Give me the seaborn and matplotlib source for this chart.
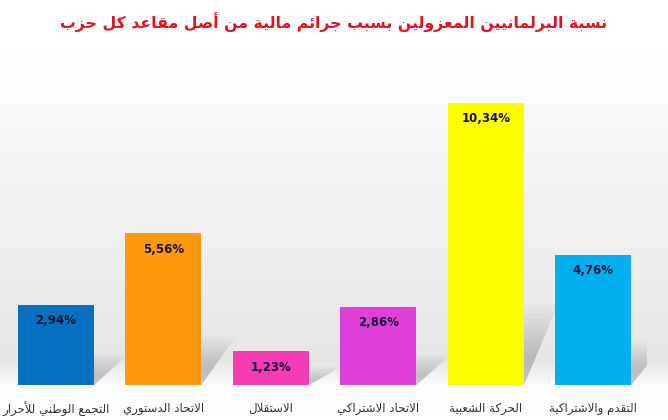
import matplotlib
matplotlib.use("Agg")
import matplotlib.pyplot as plt
import numpy as np
import pandas as pd
import seaborn as sns
from matplotlib.patches import Polygon

title = "نسبة البرلمانيين المعزولين بسبب جرائم مالية من أصل مقاعد كل حزب"
parties = ["التجمع الوطني للأحرار", "الاتحاد الدستوري", "الاستقلال",
           "الاتحاد الاشتراكي", "الحركة الشعبية", "التقدم والاشتراكية"]
shares = [2.94, 5.56, 1.23, 2.86, 10.34, 4.76]
colors = ["#0870c0", "#ff990c", "#f63cb4", "#e040d8", "#ffff00", "#02b0f0"]

# matplotlib has no arabic shaping, so map letters to presentation forms
FORMS = {
    'ء': (0xFE80, 1), 'آ': (0xFE81, 2), 'أ': (0xFE83, 2), 'ؤ': (0xFE85, 2),
    'إ': (0xFE87, 2), 'ئ': (0xFE89, 4), 'ا': (0xFE8D, 2), 'ب': (0xFE8F, 4),
    'ة': (0xFE93, 2), 'ت': (0xFE95, 4), 'ث': (0xFE99, 4), 'ج': (0xFE9D, 4),
    'ح': (0xFEA1, 4), 'خ': (0xFEA5, 4), 'د': (0xFEA9, 2), 'ذ': (0xFEAB, 2),
    'ر': (0xFEAD, 2), 'ز': (0xFEAF, 2), 'س': (0xFEB1, 4), 'ش': (0xFEB5, 4),
    'ص': (0xFEB9, 4), 'ض': (0xFEBD, 4), 'ط': (0xFEC1, 4), 'ظ': (0xFEC5, 4),
    'ع': (0xFEC9, 4), 'غ': (0xFECD, 4), 'ف': (0xFED1, 4), 'ق': (0xFED5, 4),
    'ك': (0xFED9, 4), 'ل': (0xFEDD, 4), 'م': (0xFEE1, 4), 'ن': (0xFEE5, 4),
    'ه': (0xFEE9, 4), 'و': (0xFEED, 2), 'ى': (0xFEEF, 2), 'ي': (0xFEF1, 4),
}
LAM_ALEF = {'آ': 0xFEF5, 'أ': 0xFEF7, 'إ': 0xFEF9, 'ا': 0xFEFB}


def shape(text):
    tokens = []
    i = 0
    while i < len(text):
        c = text[i]
        if c == 'ل' and i + 1 < len(text) and text[i + 1] in LAM_ALEF:
            tokens.append((LAM_ALEF[text[i + 1]], 2))
            i += 2
            continue
        if c in FORMS:
            tokens.append(FORMS[c])
        else:
            tokens.append((c, 0))
        i += 1
    out = []
    for k, (base, n) in enumerate(tokens):
        if n == 0:
            out.append(base)
            continue
        prev = k > 0 and tokens[k - 1][1] == 4 and n >= 2
        nxt = n == 4 and k + 1 < len(tokens) and tokens[k + 1][1] >= 2
        if prev and nxt:
            off = 3
        elif prev:
            off = 1
        elif nxt:
            off = 2
        else:
            off = 0
        out.append(chr(base + off))
    return "".join(reversed(out))


def main():
    sns.set_theme(style="white")
    plt.rcParams['font.family'] = ['DejaVu Sans']

    df = pd.DataFrame({"party": [shape(p) for p in parties], "share": shares})

    fig = plt.figure(figsize=(6.68, 4.20), dpi=100)

    # soft grey background that fades to white at top and bottom
    bg = fig.add_axes([0, 0, 1, 1], zorder=0)
    t = np.linspace(0, 1, 420)
    grad = np.interp(t, [0, 0.10, 0.40, 0.86, 0.92, 1.0],
                     [1.0, 1.0, 0.955, 0.90, 0.985, 1.0])
    bg.imshow(grad[:, None], cmap="gray", vmin=0, vmax=1, aspect="auto",
              extent=[0, 1, 0, 1])
    bg.axis("off")

    ax = fig.add_axes([0.003, 0.0833, 0.9656, 0.7738], zorder=1)
    ax.patch.set_alpha(0)

    sns.barplot(data=df, x="party", y="share", hue="party",
                palette=colors, legend=False, width=0.71, saturation=1,
                linewidth=0, edgecolor="none", ax=ax)

    # soft drop shadows falling back to the upper right of each bar
    for p in ax.patches:
        x0 = p.get_x()
        x1 = x0 + p.get_width()
        h = p.get_height()
        w = p.get_width()
        for s in np.linspace(1.0, 0.35, 12):
            d = w * 0.45 * s
            r = (0.25 * h + 0.4) * s
            poly = Polygon([(x0, 0), (x1, 0), (x1 + d, r), (x0 + d, r)],
                           closed=True, facecolor="#404040", alpha=0.022,
                           edgecolor="none", zorder=0.5)
            ax.add_patch(poly)

    for cont, v in zip(ax.containers, shares):
        ax.bar_label(cont, labels=[f"{v:.2f}".replace(".", ",") + "%"],
                     padding=-16, fontsize=8.5, fontweight="bold",
                     color="#15153a")

    ax.set_ylim(0, 11.92)
    ax.set_xlim(-0.5, 5.5)
    ax.set_xlabel("")
    ax.set_ylabel("")
    ax.set_yticks([])
    ax.tick_params(axis="x", length=0, pad=12, labelsize=8.5,
                   labelcolor="#333333")
    sns.despine(ax=ax, left=True, bottom=True)

    fig.text(0.5, 0.947, shape(title), ha="center", va="center",
             fontsize=11.3, fontweight="bold", color="#e8101c")

    plt.savefig("out.png", dpi=100)
    plt.close()


if __name__ == '__main__':
    main()
